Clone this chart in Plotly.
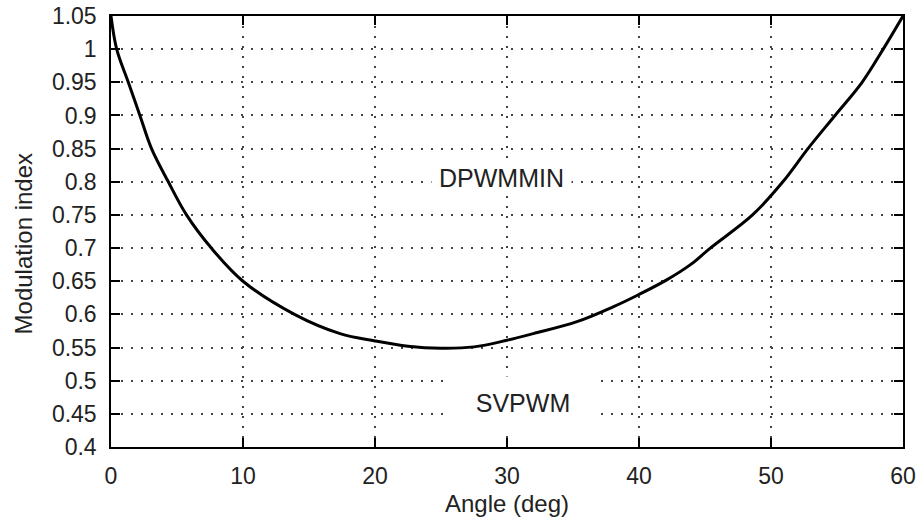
import plotly.graph_objects as go

# Boundary curve (angle in degrees vs modulation index)
angle = [0, 0.43, 1.31, 2.19, 3.07, 4.34, 5.72, 7.6, 10.0, 13.9, 17.35, 20, 22.5,
         25, 27.5, 30, 32, 35.3, 38, 40, 42.1, 43.9, 45.4, 48.6, 50.9, 52.8,
         54.85, 56.9, 58.5, 60]
mod_index = [1.05, 1.0, 0.95, 0.9, 0.85, 0.8, 0.75, 0.7, 0.65, 0.6, 0.571, 0.56, 0.552,
             0.549, 0.551, 0.561, 0.571, 0.589, 0.611, 0.630, 0.652, 0.675, 0.70, 0.75,
             0.80, 0.85, 0.9, 0.95, 1.0, 1.05]

x_ticks = [0, 10, 20, 30, 40, 50, 60]
x_ticktext = ["0", "10", "20", "30", "40", "50", "60"]
y_ticks = [0.4, 0.45, 0.5, 0.55, 0.6, 0.65, 0.7, 0.75, 0.8, 0.85, 0.9, 0.95, 1.0, 1.05]
y_ticktext = ["0.4", "0.45", "0.5", "0.55", "0.6", "0.65", "0.7", "0.75", "0.8",
              "0.85", "0.9", "0.95", "1", "1.05"]

region_labels = ["DPWMMIN", "SVPWM"]
label_x = [29.55, 31.2]
label_y = [0.8057, 0.4663]

FONT = "Liberation Sans, Arial, sans-serif"

fig = go.Figure()
fig.add_trace(go.Scatter(
    x=angle, y=mod_index, mode="lines",
    line=dict(color="black", width=3, shape="spline", smoothing=1.0),
    hoverinfo="skip", showlegend=False,
))

axis_common = dict(
    showline=True, linecolor="black", linewidth=1.5, mirror="ticks",
    ticks="inside", ticklen=9, tickwidth=1.5, tickcolor="black",
    showgrid=True, gridcolor="#444444", gridwidth=2, griddash="2px,8px",
    zeroline=False, tickfont=dict(family=FONT, size=23, color="#222"),
    ticklabelstandoff=8, automargin=False, ticklabeloverflow="allow",
)

fig.update_xaxes(range=[0, 60], tickvals=x_ticks, ticktext=x_ticktext,
                 title=dict(text="Angle (deg)", font=dict(family=FONT, size=24, color="#222")),
                 **axis_common)
fig.update_yaxes(range=[0.4, 1.05], tickvals=y_ticks, ticktext=y_ticktext,
                 **axis_common)

# y-axis title placed as a rotated text
fig.add_annotation(x=0, xref="paper", y=0.47, yref="paper", xshift=-88,
                   text="Modulation index", textangle=-90, showarrow=False,
                   font=dict(family=FONT, size=24, color="#222"),
                   xanchor="center", yanchor="middle")

fig.add_annotation(x=label_x[0], y=label_y[0], text=region_labels[0], showarrow=False,
                   font=dict(family=FONT, size=25, color="#222"), bgcolor="white",
                   width=137, height=26)
fig.add_annotation(x=label_x[1], y=label_y[1], text=region_labels[1], showarrow=False,
                   font=dict(family=FONT, size=25, color="#222"), bgcolor="white",
                   width=150, height=50)

fig.update_layout(
    width=919, height=517,
    margin=dict(l=111, r=16, t=16, b=70),
    paper_bgcolor="white", plot_bgcolor="white",
    font=dict(family=FONT, color="#222"),
)

fig.write_html("out.html", config={"displayModeBar": False},
               post_script="document.body.style.margin='0';")
